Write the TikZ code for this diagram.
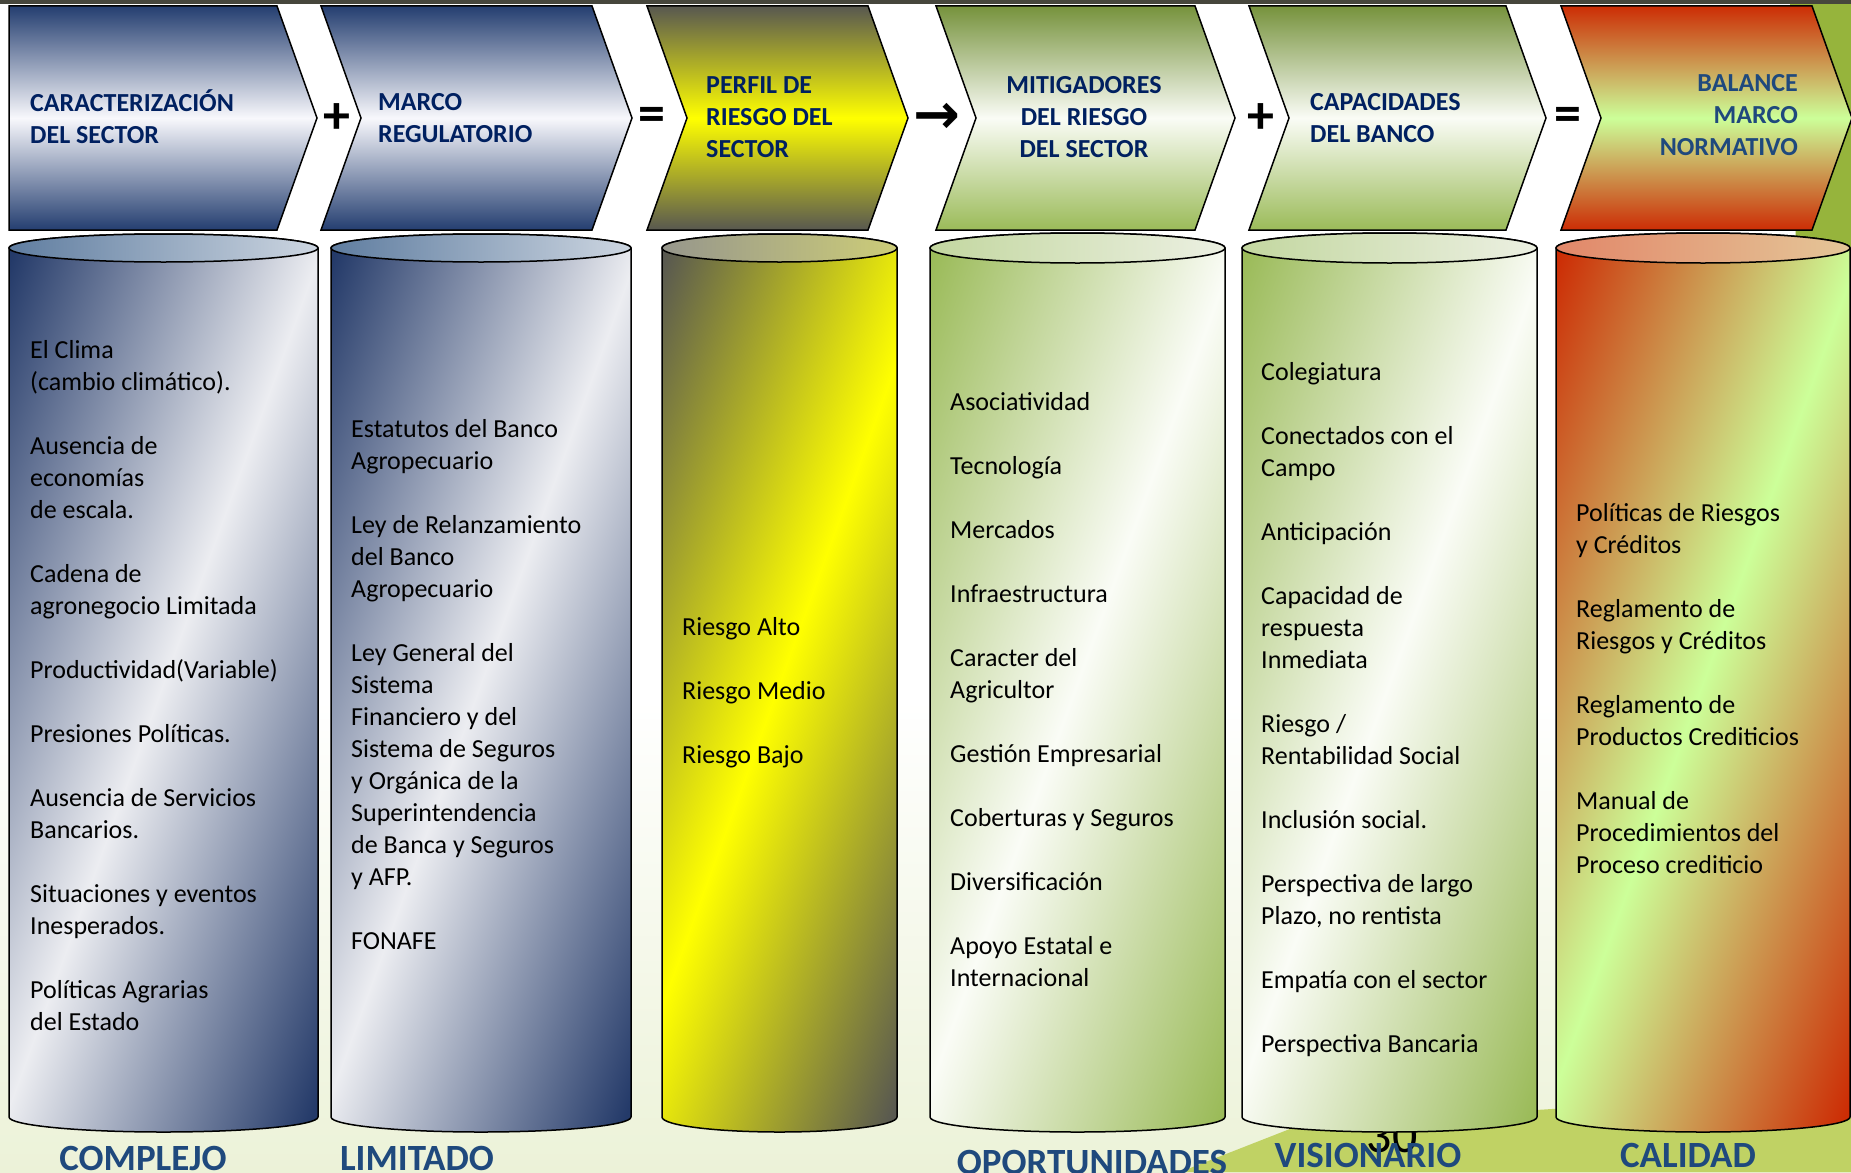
\documentclass[tikz,border=0pt]{standalone}
\usepackage{fontspec}
\setmainfont{Carlito}
\newfontfamily\arrowfont{DejaVu Sans}
\definecolor{hdnavy}{RGB}{0,32,96}
\definecolor{hdblue}{RGB}{31,73,125}
\definecolor{lblblue}{RGB}{31,73,125}
\definecolor{navydark}{RGB}{36,62,112}
\definecolor{navypale}{RGB}{248,248,252}
\definecolor{cylnavy}{RGB}{36,58,105}
\definecolor{cylpale}{RGB}{236,237,241}
\definecolor{navytopl}{RGB}{95,125,160}
\definecolor{navytopr}{RGB}{205,214,225}
\definecolor{olivegrey}{RGB}{88,88,80}
\definecolor{brightyel}{RGB}{255,255,0}
\definecolor{yeltopl}{RGB}{150,150,140}
\definecolor{yeltopr}{RGB}{205,205,120}
\definecolor{leafdark}{RGB}{118,146,60}
\definecolor{leaf}{RGB}{155,187,89}
\definecolor{leafpale}{RGB}{250,252,246}
\definecolor{leaftopl}{RGB}{195,215,160}
\definecolor{leaftopr}{RGB}{236,240,226}
\definecolor{riskred}{RGB}{204,45,5}
\definecolor{palelime}{RGB}{204,255,153}
\definecolor{redtopl}{RGB}{226,135,105}
\definecolor{redtopr}{RGB}{228,198,152}
\definecolor{bgwash}{RGB}{236,242,216}
\definecolor{bggreen}{RGB}{192,210,100}
\definecolor{bgdeep}{RGB}{150,180,60}
\definecolor{topbar}{RGB}{70,70,60}
\usetikzlibrary{positioning}

\pgfdeclareverticalshading{navycyl}{100bp}{color(0bp)=(cylnavy); color(19bp)=(cylnavy); color(50bp)=(cylpale); color(81bp)=(cylnavy); color(100bp)=(cylnavy)}
\pgfdeclareverticalshading{yelcyl}{100bp}{color(0bp)=(olivegrey); color(19bp)=(olivegrey); color(50bp)=(brightyel); color(81bp)=(olivegrey); color(100bp)=(olivegrey)}
\pgfdeclareverticalshading{leafcyl}{100bp}{color(0bp)=(leaf); color(19bp)=(leaf); color(50bp)=(leafpale); color(81bp)=(leaf); color(100bp)=(leaf)}
\pgfdeclareverticalshading{redcyl}{100bp}{color(0bp)=(riskred); color(19bp)=(riskred); color(50bp)=(palelime); color(81bp)=(riskred); color(100bp)=(riskred)}

\newcommand\hdfont{\fontsize{26}{32}\selectfont\bfseries}
\newcommand\txfont{\fontsize{26}{32}\selectfont}
\newcommand\opfont{\fontsize{54}{60}\selectfont\bfseries}
\newcommand\lblfont{\fontsize{37}{40}\selectfont\bfseries}

\begin{document}
\begin{tikzpicture}[x=1pt, y=-1pt,
  chevbox/.style={draw=black, line width=1.5pt},
  cylbody/.style={draw=black, line width=1.5pt, shade, shading angle=70},
  cyltop/.style={draw=black, line width=1.5pt},
  hdtext/.style={font=\hdfont, text=hdnavy, align=left, anchor=base west, inner sep=0pt},
  bodytext/.style={font=\txfont, text=black, align=left, anchor=base west, inner sep=0pt},
  optext/.style={font=\opfont, text=black, inner sep=0pt},
  lbltext/.style={font=\lblfont, text=lblblue, anchor=base, inner sep=0pt}
]
\useasboundingbox (0,0) rectangle (1851,1172);
\fill[white] (0,0) rectangle (1851,1172);
\shade[top color=white, bottom color=bgwash] (0,700) rectangle (1851,1172);
\fill[bggreen] (1180,1172) -- (1300,1125) -- (1851,1090) -- (1851,1172) -- cycle;
\fill[bgdeep] (1790,0) -- (1851,0) -- (1851,430) -- (1800,420) -- cycle;
\fill[topbar] (0,0) rectangle (1851,4);

\draw[chevbox, top color=navydark, bottom color=navydark, middle color=navypale]
  (9,6) -- (277,6) -- (317,118) -- (277,230) -- (9,230) -- cycle;
\draw[chevbox, top color=navydark, bottom color=navydark, middle color=navypale]
  (321,6) -- (592,6) -- (632,118) -- (592,230) -- (321,230) -- (361,118) -- cycle;
\draw[chevbox, top color=olivegrey, bottom color=olivegrey, middle color=brightyel]
  (647,6) -- (868,6) -- (908,118) -- (868,230) -- (647,230) -- (687,118) -- cycle;
\draw[chevbox, top color=leafdark, bottom color=leaf, middle color=leafpale]
  (936,6) -- (1195,6) -- (1235,118) -- (1195,230) -- (936,230) -- (976,118) -- cycle;
\draw[chevbox, top color=leafdark, bottom color=leaf, middle color=leafpale]
  (1249,6) -- (1506,6) -- (1546,118) -- (1506,230) -- (1249,230) -- (1289,118) -- cycle;
\draw[chevbox, top color=riskred, bottom color=riskred, middle color=palelime]
  (1561,6) -- (1812,6) -- (1852,118) -- (1812,230) -- (1561,230) -- (1601,118) -- cycle;

\node[hdtext] (hd1) at (30,143) {CARACTERIZACIÓN\\DEL SECTOR};
\node[hdtext] (hd2) at (378,142) {MARCO\\REGULATORIO};
\node[hdtext] (hd3) at (706,157) {PERFIL DE\\RIESGO DEL\\SECTOR};
\node[hdtext, align=center, anchor=base] (hd4) at (1084,157) {MITIGADORES\\DEL RIESGO\\DEL SECTOR};
\node[hdtext] (hd5) at (1310,142) {CAPACIDADES\\DEL BANCO};
\node[hdtext, text=hdblue, align=right, anchor=base east] (hd6) at (1798,155) {BALANCE\\MARCO\\NORMATIVO};

\node[optext] (op1) at (337,119) {+};
\node[optext] (op2) at (652,119) {=};
\node[optext, font=\arrowfont\fontsize{56}{60}\selectfont\bfseries] (op3) at (937,118) {→};
\node[optext] (op4) at (1261,119) {+};
\node[optext] (op5) at (1568,119) {=};

\node[font=\fontsize{50}{54}\selectfont, inner sep=0pt, anchor=base] (pg) at (1392,1152) {30};

\draw[cylbody, shading=navycyl]
  (9,248) -- (9,1117) arc[start angle=180, end angle=360, x radius=154.5pt, y radius=15pt]
  -- (318,248) arc[start angle=0, end angle=180, x radius=154.5pt, y radius=14pt] -- cycle;
\draw[cyltop, left color=navytopl, right color=navytopr] (163.5,248) ellipse [x radius=154.5pt, y radius=14pt];

\draw[cylbody, shading=navycyl]
  (331,248) -- (331,1117) arc[start angle=180, end angle=360, x radius=150pt, y radius=15pt]
  -- (631,248) arc[start angle=0, end angle=180, x radius=150pt, y radius=14pt] -- cycle;
\draw[cyltop, left color=navytopl, right color=navytopr] (481,248) ellipse [x radius=150pt, y radius=14pt];

\draw[cylbody, shading=yelcyl]
  (662,248) -- (662,1117) arc[start angle=180, end angle=360, x radius=117.5pt, y radius=15pt]
  -- (897,248) arc[start angle=0, end angle=180, x radius=117.5pt, y radius=14pt] -- cycle;
\draw[cyltop, left color=yeltopl, right color=yeltopr] (779.5,248) ellipse [x radius=117.5pt, y radius=14pt];

\draw[cylbody, shading=leafcyl]
  (930,248) -- (930,1117) arc[start angle=180, end angle=360, x radius=147.5pt, y radius=15pt]
  -- (1225,248) arc[start angle=0, end angle=180, x radius=147.5pt, y radius=15pt] -- cycle;
\draw[cyltop, left color=leaftopl, right color=leaftopr] (1077.5,248) ellipse [x radius=147.5pt, y radius=15pt];

\draw[cylbody, shading=leafcyl]
  (1242,248) -- (1242,1117) arc[start angle=180, end angle=360, x radius=147.5pt, y radius=15pt]
  -- (1537,248) arc[start angle=0, end angle=180, x radius=147.5pt, y radius=15pt] -- cycle;
\draw[cyltop, left color=leaftopl, right color=leaftopr] (1389.5,248) ellipse [x radius=147.5pt, y radius=15pt];

\draw[cylbody, shading=redcyl]
  (1556,248) -- (1556,1117) arc[start angle=180, end angle=360, x radius=147pt, y radius=15pt]
  -- (1850,248) arc[start angle=0, end angle=180, x radius=147pt, y radius=15pt] -- cycle;
\draw[cyltop, left color=redtopl, right color=redtopr] (1703,248) ellipse [x radius=147pt, y radius=15pt];

\node[bodytext] (tx1) at (30,1030) {El Clima\\(cambio climático).\\[32pt]Ausencia de\\economías\\de escala.\\[32pt]Cadena de\\agronegocio Limitada\\[32pt]Productividad(Variable)\\[32pt]Presiones Políticas.\\[32pt]Ausencia de Servicios\\Bancarios.\\[32pt]Situaciones y eventos\\Inesperados.\\[32pt]Políticas Agrarias\\del Estado};
\node[bodytext] (tx2) at (351,949) {Estatutos del Banco\\Agropecuario\\[32pt]Ley de Relanzamiento\\del Banco\\Agropecuario\\[32pt]Ley General del\\Sistema\\Financiero y del\\Sistema de Seguros\\y Orgánica de la\\Superintendencia\\de Banca y Seguros\\y AFP.\\[32pt]FONAFE};
\node[bodytext] (tx3) at (682,763) {Riesgo Alto\\[32pt]Riesgo Medio\\[32pt]Riesgo Bajo};
\node[bodytext] (tx4) at (950,986) {Asociatividad\\[32pt]Tecnología\\[32pt]Mercados\\[32pt]Infraestructura\\[32pt]Caracter del\\Agricultor\\[32pt]Gestión Empresarial\\[32pt]Coberturas y Seguros\\[32pt]Diversificación\\[32pt]Apoyo Estatal e\\Internacional};
\node[bodytext] (tx5) at (1261,1052) {Colegiatura\\[32pt]Conectados con el\\Campo\\[32pt]Anticipación\\[32pt]Capacidad de\\respuesta\\Inmediata\\[32pt]Riesgo /\\Rentabilidad Social\\[32pt]Inclusión social.\\[32pt]Perspectiva de largo\\Plazo, no rentista\\[32pt]Empatía con el sector\\[32pt]Perspectiva Bancaria};
\node[bodytext] (tx6) at (1576,873) {Políticas de Riesgos\\y Créditos\\[32pt]Reglamento de\\Riesgos y Créditos\\[32pt]Reglamento de\\Productos Crediticios\\[32pt]Manual de\\Procedimientos del\\Proceso crediticio};

\node[lbltext] (lb1) at (143,1170) {COMPLEJO};
\node[lbltext] (lb2) at (417,1170) {LIMITADO};
\node[lbltext] (lb4) at (1092,1174) {OPORTUNIDADES};
\node[lbltext] (lb5) at (1368,1167) {VISIONARIO};
\node[lbltext] (lb6) at (1688,1167) {CALIDAD};
\end{tikzpicture}
\end{document}
